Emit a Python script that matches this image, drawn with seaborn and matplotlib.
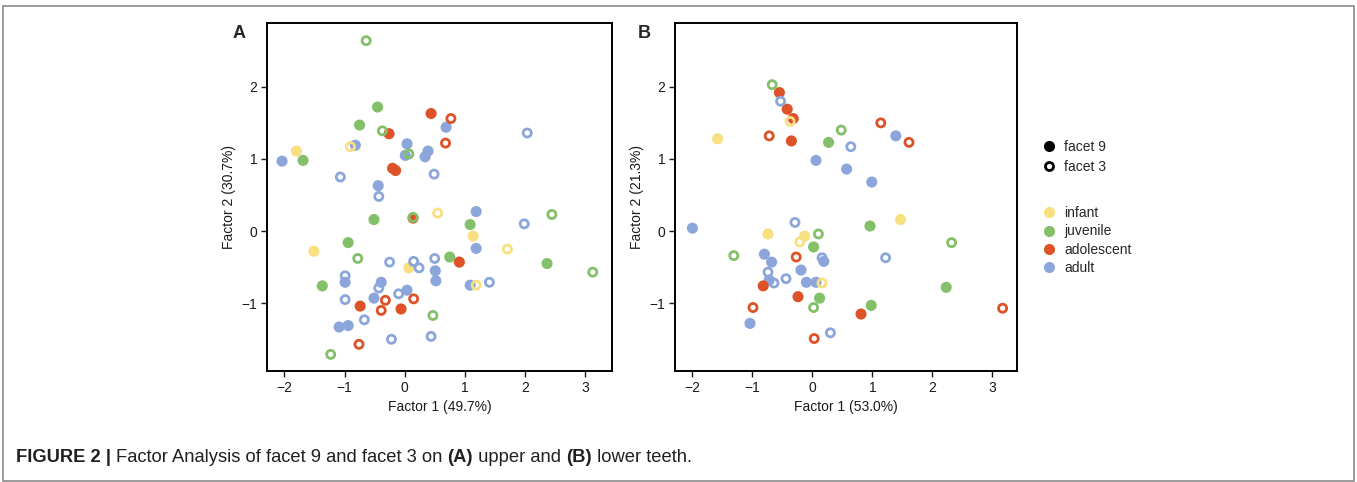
import matplotlib
matplotlib.use("Agg")
import matplotlib.pyplot as plt
import seaborn as sns
import pandas as pd
from matplotlib.lines import Line2D
from matplotlib.patches import Rectangle

# ---------------- data ----------------
age_groups = ["infant", "juvenile", "adolescent", "adult"]
age_colors = ["#F8DF80", "#84BF6A", "#DE5227", "#8CA6DB"]
facets = ["facet 9", "facet 3"]

# Panel A (upper teeth)
a_x = [-0.64, -0.45, -0.75, -0.37, -0.26, -1.80, -1.69, -2.04, -0.90, -0.82,
       0.04, 0.01, 0.07, -0.20, -0.15, -1.07, -0.44, -0.43, 0.44, 0.77,
       0.69, 0.68, 2.04, 0.39, 0.34, 0.49, -0.51, 0.14, 0.14, -1.51,
       -0.94, -0.78, -0.25, 0.07, 0.15, 0.24, -0.99, -0.99, -1.37, -0.39,
       -0.43, -0.99, -0.51, -0.32, -0.39, -0.74, -0.10, 0.04, -0.06, 0.15,
       -1.09, -0.94, -0.67, -0.76, -0.22, -1.23, 0.55, 1.19, 2.45, 1.99,
       1.09, 1.14, 1.19, 1.71, 0.50, 0.75, 0.91, 2.37, 3.13, 0.51,
       0.52, 1.09, 1.19, 1.41, 0.47, 0.44]
a_y = [2.64, 1.72, 1.47, 1.39, 1.35, 1.11, 0.98, 0.97, 1.17, 1.19,
       1.21, 1.05, 1.07, 0.87, 0.84, 0.75, 0.63, 0.48, 1.63, 1.56,
       1.44, 1.22, 1.36, 1.11, 1.03, 0.79, 0.16, 0.18, 0.19, -0.28,
       -0.16, -0.38, -0.43, -0.51, -0.42, -0.51, -0.62, -0.71, -0.76, -0.71,
       -0.79, -0.95, -0.93, -0.96, -1.10, -1.04, -0.87, -0.82, -1.08, -0.94,
       -1.33, -1.31, -1.23, -1.57, -1.50, -1.71, 0.25, 0.27, 0.23, 0.10,
       0.09, -0.07, -0.24, -0.25, -0.38, -0.36, -0.43, -0.45, -0.57, -0.55,
       -0.69, -0.75, -0.75, -0.71, -1.17, -1.46]
a_age = ["juvenile", "juvenile", "juvenile", "juvenile", "adolescent", "infant", "juvenile", "adult", "infant", "adult",
         "adult", "adult", "juvenile", "adolescent", "adolescent", "adult", "adult", "adult", "adolescent", "adolescent",
         "adult", "adolescent", "adult", "adult", "adult", "adult", "juvenile", "adolescent", "juvenile", "infant",
         "juvenile", "juvenile", "adult", "infant", "adult", "adult", "adult", "adult", "juvenile", "adult",
         "adult", "adult", "adult", "adolescent", "adolescent", "adolescent", "adult", "adult", "adolescent", "adolescent",
         "adult", "adult", "adult", "adolescent", "adult", "juvenile", "infant", "adult", "juvenile", "adult",
         "juvenile", "infant", "adult", "infant", "adult", "juvenile", "adolescent", "juvenile", "juvenile", "adult",
         "adult", "adult", "infant", "adult", "juvenile", "adult"]
a_facet = ["facet 3", "facet 9", "facet 9", "facet 3", "facet 9", "facet 9", "facet 9", "facet 9", "facet 3", "facet 9",
           "facet 9", "facet 9", "facet 3", "facet 9", "facet 9", "facet 3", "facet 9", "facet 3", "facet 9", "facet 3",
           "facet 9", "facet 3", "facet 3", "facet 9", "facet 9", "facet 3", "facet 9", "facet 9", "facet 3", "facet 9",
           "facet 9", "facet 3", "facet 3", "facet 9", "facet 3", "facet 3", "facet 3", "facet 9", "facet 9", "facet 9",
           "facet 3", "facet 3", "facet 9", "facet 3", "facet 3", "facet 9", "facet 3", "facet 9", "facet 9", "facet 3",
           "facet 9", "facet 9", "facet 3", "facet 3", "facet 3", "facet 3", "facet 3", "facet 9", "facet 3", "facet 3",
           "facet 9", "facet 9", "facet 9", "facet 3", "facet 3", "facet 9", "facet 9", "facet 9", "facet 3", "facet 9",
           "facet 9", "facet 9", "facet 3", "facet 3", "facet 3", "facet 3"]

# Panel B (lower teeth)
b_x = [-0.67, -0.55, -0.53, -0.42, -0.32, -0.37, -1.58, -0.72, -0.35, 0.27,
       0.06, 0.48, 0.64, 1.14, 1.39, 1.61, 0.57, 0.99, -2.00, -0.29,
       -0.74, -0.13, -0.21, 0.10, 0.02, -1.31, -0.80, -0.68, -0.27, 0.16,
       0.19, -0.74, -0.72, -0.64, -0.44, -0.19, -0.10, 0.06, 0.16, -0.82,
       -0.24, 0.12, 0.02, -0.99, -1.04, 0.03, 0.30, 0.96, 1.47, 2.32,
       1.22, 2.23, 0.98, 0.81, 3.17]
b_y = [2.03, 1.92, 1.80, 1.69, 1.56, 1.52, 1.28, 1.32, 1.25, 1.23,
       0.98, 1.40, 1.17, 1.50, 1.32, 1.23, 0.86, 0.68, 0.04, 0.12,
       -0.04, -0.07, -0.15, -0.04, -0.22, -0.34, -0.32, -0.43, -0.36, -0.37,
       -0.42, -0.57, -0.68, -0.72, -0.66, -0.54, -0.71, -0.71, -0.72, -0.76,
       -0.91, -0.93, -1.06, -1.06, -1.28, -1.49, -1.41, 0.07, 0.16, -0.16,
       -0.37, -0.78, -1.03, -1.15, -1.07]
b_age = ["juvenile", "adolescent", "adult", "adolescent", "adolescent", "infant", "infant", "adolescent", "adolescent", "juvenile",
         "adult", "juvenile", "adult", "adolescent", "adult", "adolescent", "adult", "adult", "adult", "adult",
         "infant", "infant", "infant", "juvenile", "juvenile", "juvenile", "adult", "adult", "adolescent", "adult",
         "adult", "adult", "adult", "adult", "adult", "adult", "adult", "adult", "infant", "adolescent",
         "adolescent", "juvenile", "juvenile", "adolescent", "adult", "adolescent", "adult", "juvenile", "infant", "juvenile",
         "adult", "juvenile", "juvenile", "adolescent", "adolescent"]
b_facet = ["facet 3", "facet 9", "facet 3", "facet 9", "facet 9", "facet 3", "facet 9", "facet 3", "facet 9", "facet 9",
           "facet 9", "facet 3", "facet 3", "facet 3", "facet 9", "facet 3", "facet 9", "facet 9", "facet 9", "facet 3",
           "facet 9", "facet 9", "facet 3", "facet 3", "facet 9", "facet 3", "facet 9", "facet 9", "facet 3", "facet 3",
           "facet 9", "facet 3", "facet 9", "facet 3", "facet 3", "facet 9", "facet 9", "facet 9", "facet 3", "facet 9",
           "facet 9", "facet 9", "facet 3", "facet 3", "facet 9", "facet 3", "facet 3", "facet 9", "facet 9", "facet 3",
           "facet 3", "facet 9", "facet 9", "facet 9", "facet 3"]

x_labels = ["Factor 1 (49.7%)", "Factor 1 (53.0%)"]
y_labels = ["Factor 2 (30.7%)", "Factor 2 (21.3%)"]
panel_tags = ["A", "B"]
x_ticks = [-2, -1, 0, 1, 2, 3]
y_ticks = [-1, 0, 1, 2]

# ---------------- style ----------------
sns.set_style("ticks")
plt.rcParams["font.family"] = ["Liberation Sans", "DejaVu Sans"]
plt.rcParams["axes.unicode_minus"] = True

W, H = 1357, 482
fig = plt.figure(figsize=(W / 100, H / 100), dpi=100)
palette = dict(zip(age_groups, age_colors))

axes_px = [(267, 612), (675, 1017)]
top_px, bot_px = 23, 371

panels = [
    pd.DataFrame({"x": a_x, "y": a_y, "age": a_age, "facet": a_facet}),
    pd.DataFrame({"x": b_x, "y": b_y, "age": b_age, "facet": b_facet}),
]

for i, df in enumerate(panels):
    l, r = axes_px[i]
    ax = fig.add_axes([l / W, 1 - bot_px / H, (r - l) / W, (bot_px - top_px) / H])
    filled = df[df["facet"] == "facet 9"]
    sns.scatterplot(data=filled, x="x", y="y", hue="age", palette=palette,
                    hue_order=age_groups, s=64, linewidth=0, edgecolor="none",
                    legend=False, ax=ax, zorder=3)
    opened = df[df["facet"] == "facet 3"]
    for g in age_groups:
        sub = opened[opened["age"] == g]
        if len(sub):
            sns.scatterplot(data=sub, x="x", y="y", s=34, marker="o",
                            facecolor="none", edgecolor=palette[g],
                            linewidth=2.0, legend=False, ax=ax, zorder=4)
    ax.set_xlim(-2.29, 3.45 if i == 0 else 3.41)
    ax.set_ylim(-1.94, 2.885)
    ax.set_xticks(x_ticks)
    ax.set_yticks(y_ticks)
    ax.set_xlabel(x_labels[i], fontsize=10, labelpad=4, color="#1a1a1a")
    ax.set_ylabel(y_labels[i], fontsize=10, labelpad=4, color="#1a1a1a")
    ax.tick_params(labelsize=10, length=4, width=1.0, pad=3, colors="#1a1a1a")
    for sp in ax.spines.values():
        sp.set_visible(True)
        sp.set_linewidth(1.4)
        sp.set_color("black")
    ax.grid(False)

fig.text(239 / W, 1 - 34 / H, "A", fontsize=13, fontweight="bold", ha="center", va="center")
fig.text(644 / W, 1 - 34 / H, "B", fontsize=13, fontweight="bold", ha="center", va="center")

# legends
facet_handles = [
    Line2D([], [], marker="o", linestyle="none", markersize=8, markerfacecolor="black",
           markeredgecolor="black", markeredgewidth=0),
    Line2D([], [], marker="o", linestyle="none", markersize=5.8, markerfacecolor="none",
           markeredgecolor="black", markeredgewidth=2.0),
]
leg1 = fig.legend(facet_handles, facets, loc="upper left", bbox_to_anchor=(1041 / W, 1 - 140 / H),
                  frameon=False, fontsize=10, handletextpad=0.45, labelspacing=0.45,
                  handlelength=1.2, borderaxespad=0, borderpad=0)
age_handles = [Line2D([], [], marker="o", linestyle="none", markersize=8, markerfacecolor=c,
                      markeredgewidth=0) for c in age_colors]
leg2 = fig.legend(age_handles, age_groups, loc="upper left", bbox_to_anchor=(1041 / W, 1 - 206 / H),
                  frameon=False, fontsize=10, handletextpad=0.45, labelspacing=0.32,
                  handlelength=1.2, borderaxespad=0, borderpad=0)

# caption
fig.canvas.draw()
rend = fig.canvas.get_renderer()
parts = [("FIGURE 2 | ", True), ("Factor Analysis of facet 9 and facet 3 on ", False),
         ("(A)", True), (" upper and ", False), ("(B)", True), (" lower teeth.", False)]
cx = 16 / W
for txt, bold in parts:
    t = fig.text(cx, 1 - 458 / H, txt, fontsize=13.2, fontweight="bold" if bold else "normal",
                 va="center", ha="left", color="#231f20")
    bb = t.get_window_extent(rend)
    cx += bb.width / fig.bbox.width

fig.patches.append(Rectangle((3 / W, 1 / H), (W - 6) / W, (H - 7) / H, transform=fig.transFigure,
                             fill=False, edgecolor="#8a8a8a", linewidth=1.2))

fig.savefig("out.png", dpi=100)
